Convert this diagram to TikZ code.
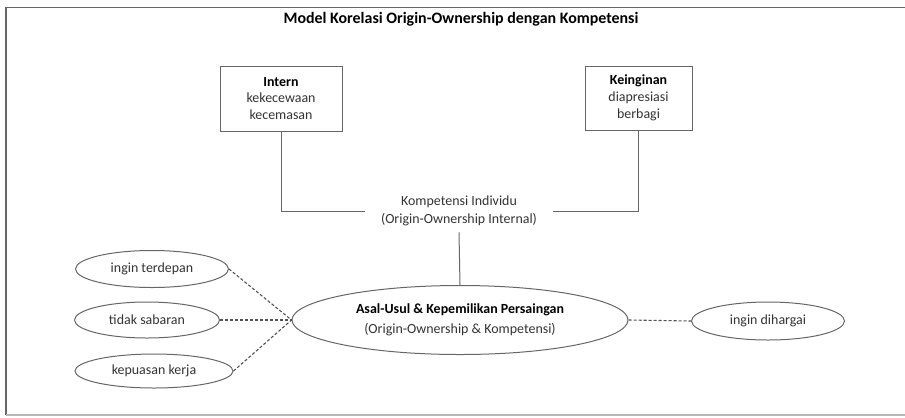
\documentclass[tikz,border=0pt]{standalone}
\usepackage{fontspec}
\setmainfont{Carlito}
\usetikzlibrary{shapes.geometric}
\definecolor{linegray}{HTML}{666666}
\definecolor{textgray}{HTML}{333333}
\definecolor{framelight}{HTML}{B8B8B8}
\begin{document}
\begin{tikzpicture}[x=1bp,y=-1bp,
  font=\fontsize{14}{17}\selectfont,
  every node/.style={text=textgray},
  boxnode/.style={draw=linegray, line width=1bp, fill=white, align=center, inner sep=0pt},
  ovalnode/.style={ellipse, draw=linegray, line width=1bp, fill=white, align=center, inner sep=0pt},
  solidlink/.style={draw=linegray, line width=1bp},
  dashlink/.style={draw=linegray!80!black, line width=1.1bp, dash pattern=on 3bp off 2bp},
  heading/.style={text=black, font=\fontsize{16}{19}\selectfont\bfseries}
]
\useasboundingbox (0,0) rectangle (905,417);
% outer frame (open on the right)
\draw[linegray, line width=1.2bp] (905,7.5) -- (6,7.5) -- (6,415);
\draw[framelight, line width=1.2bp] (6,415) -- (905,415);

% title
\node[heading] (title) at (461,19) {Model Korelasi Origin-Ownership dengan Kompetensi};

% upper boxes
\node[boxnode, minimum width=122bp, minimum height=65bp] (intern) at (281,98.5)
  {\textcolor{black}{\bfseries Intern}\\kekecewaan\\kecemasan};
\node[boxnode, minimum width=107bp, minimum height=64bp] (keinginan) at (638.5,98)
  {\textcolor{black}{\bfseries Keinginan}\\diapresiasi\\berbagi};

% individual competence label
\node[align=center, minimum width=188bp, inner ysep=6bp,
      font=\fontsize{14}{18.5}\selectfont] (komp) at (459,211)
  {Kompetensi Individu\\(Origin-Ownership Internal)};

% central ellipse
\node[ovalnode, minimum width=336bp, minimum height=69bp,
      font=\fontsize{14}{20}\selectfont] (asal) at (460,320)
  {\textcolor{black}{\bfseries Asal-Usul \& Kepemilikan Persaingan}\\(Origin-Ownership \& Kompetensi)};

% side ellipses
\node[ovalnode, minimum width=153bp, minimum height=37bp] (terdepan) at (152,269) {ingin terdepan};
\node[ovalnode, minimum width=145bp, minimum height=36bp] (sabaran) at (147,320) {tidak sabaran};
\node[ovalnode, minimum width=158bp, minimum height=34bp] (kepuasan) at (154,371) {kepuasan kerja};
\node[ovalnode, minimum width=153bp, minimum height=38bp] (dihargai) at (768,321) {ingin dihargai};

% solid connectors
\draw[solidlink] (intern.south) |- (komp.west);
\draw[solidlink] (keinginan.south) |- (komp.east);
\draw[solidlink] (komp.south) -- (asal.north);

% dashed connectors
\draw[dashlink] (terdepan.east) -- (asal.west);
\draw[dashlink] (sabaran.east) -- (asal.west);
\draw[dashlink] (kepuasan.east) -- (asal.west);
\draw[dashlink] (asal.east) -- (dihargai.west);
\end{tikzpicture}
\end{document}
